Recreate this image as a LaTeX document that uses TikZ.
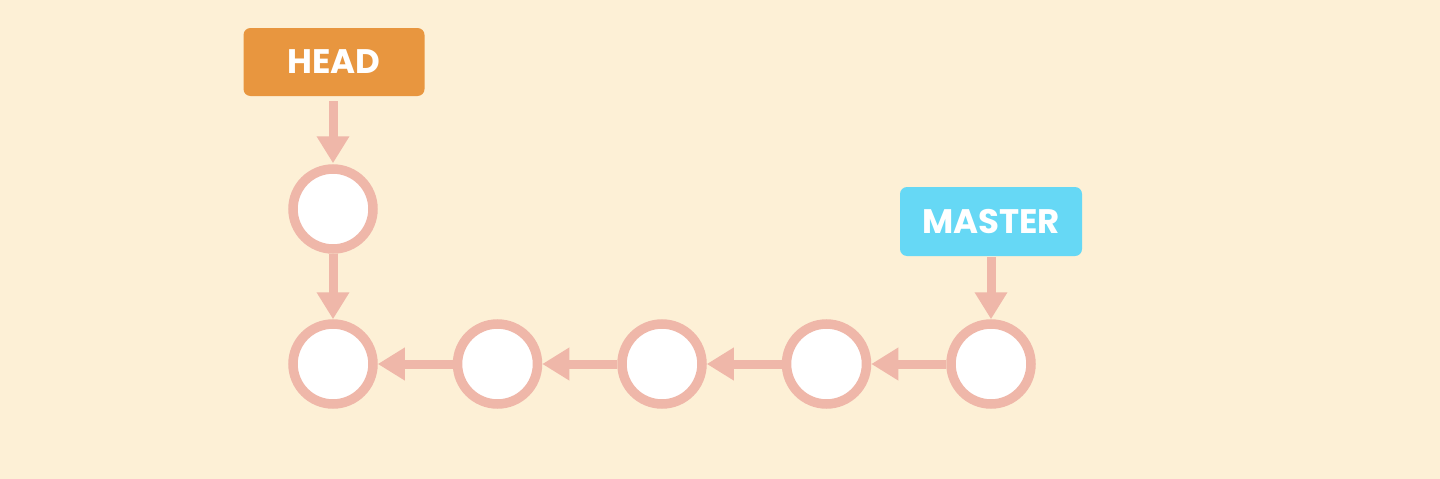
\documentclass[tikz,border=0pt]{standalone}
\usepackage{fontspec}
\setmainfont{Poppins}
\usepackage{xcolor}
\usetikzlibrary{positioning,arrows.meta}
\definecolor{paper}{RGB}{253,240,214}
\definecolor{ring}{RGB}{239,183,169}
\definecolor{headorange}{RGB}{232,150,63}
\definecolor{mastercyan}{RGB}{102,216,245}
\tikzset{
    commit/.style={draw=ring, line width=9.5pt, circle, fill=white, minimum size=80pt, inner sep=0pt},
    branch/.style={rectangle, rounded corners=7pt, minimum width=181pt, minimum height=68pt, text=white, font=\fontsize{34}{40}\selectfont\bfseries},
    link/.style={draw=ring, line width=9pt, -{Triangle[width=31pt,length=27pt]}}
}
\begin{document}
\begin{tikzpicture}[x=1pt, y=1pt, node distance=164.5pt, on grid]
    % Background
    \fill[paper] (0,0) rectangle (1440,-479);
    \useasboundingbox (0,0) rectangle (1440,-479);

    % Commits
    \node[commit] (c1) at (333,-364) {};
    \node[commit, right=of c1] (c2) {};
    \node[commit, right=of c2] (c3) {};
    \node[commit, right=of c3] (c4) {};
    \node[commit, right=of c4] (c5) {};
    \node[commit, above=155pt of c1] (top) {};

    % Branch labels
    \node[branch, fill=headorange, above=147pt of top, xshift=1pt] (head) {HEAD};
    \node[branch, fill=mastercyan, above=142.5pt of c5, minimum width=182pt, minimum height=69pt] (master) {MASTER};

    % Arrows
    \draw[link] (c5) -- (c4);
    \draw[link] (c4) -- (c3);
    \draw[link] (c3) -- (c2);
    \draw[link] (c2) -- (c1);
    \draw[link] (top) -- (c1);
    \draw[link, shorten <=5pt, shorten >=1pt] (head.south -| top) -- (top);
    \draw[link, shorten <=1pt] (master) -- (c5);
\end{tikzpicture}
\end{document}
